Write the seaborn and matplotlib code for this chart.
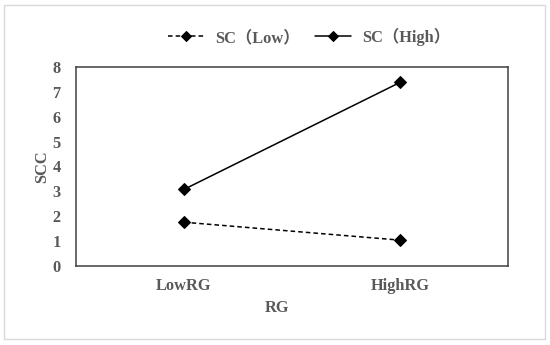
import pandas as pd
import matplotlib
matplotlib.use("Agg")
import matplotlib.pyplot as plt
import seaborn as sns
from matplotlib.patches import Rectangle

# values
rg_levels = ["LowRG", "HighRG"]
sc_low = [1.76, 1.04]
sc_high = [3.08, 7.38]
sc_labels = ["SC（Low）", "SC（High）"]
y_ticks = [0, 1, 2, 3, 4, 5, 6, 7, 8]

df = pd.DataFrame({
    "RG": rg_levels * 2,
    "SCC": sc_low + sc_high,
    "SC": [sc_labels[0]] * 2 + [sc_labels[1]] * 2,
})

sns.set_style("white")
plt.rcParams['font.family'] = ['Liberation Serif', 'Noto Sans CJK SC', 'DejaVu Sans']
text_col = "#595959"

fig = plt.figure(figsize=(5.5, 3.45), dpi=100)
ax = fig.add_axes([76 / 550, 1 - 266 / 345, 432 / 550, 199 / 345])

sns.lineplot(data=df, x="RG", y="SCC", hue="SC", style="SC",
             palette=["black", "black"], markers=["D", "D"],
             dashes=[(3, 2), ""], markersize=6.5, linewidth=1.1,
             markeredgecolor="black", ax=ax)

ax.set_xlim(-0.5, 1.5)
ax.set_ylim(0, 8)
ax.set_yticks(y_ticks)
ax.tick_params(length=0, labelsize=11.8, labelcolor=text_col)
ax.tick_params(axis="y", pad=11)
ax.tick_params(axis="x", pad=9)
for lab in ax.get_xticklabels() + ax.get_yticklabels():
    lab.set_fontweight("bold")

ax.set_xlabel("RG", fontsize=11.8, fontweight="bold", color=text_col)
ax.set_ylabel("SCC", fontsize=11.8, fontweight="bold", color=text_col)
ax.xaxis.set_label_coords(0.465, -0.17)
ax.yaxis.set_label_coords(-0.06, 0.5)

for sp in ax.spines.values():
    sp.set_visible(True)
    sp.set_color("#404040")
    sp.set_linewidth(1.1)

ax.get_legend().remove()
handles, labels = ax.get_legend_handles_labels()
leg = fig.legend(handles, labels, loc="center", ncol=2, frameon=False,
                 bbox_to_anchor=(309 / 550, 1 - 37 / 345),
                 prop={"size": 11.8, "weight": "bold"}, markerscale=0.8,
                 handlelength=2.2, handletextpad=0.7, columnspacing=0.9)
for t in leg.get_texts():
    t.set_color(text_col)

# light outer border of the chart area
fig.patches.append(Rectangle((4 / 550, 1 - 339 / 345), 541 / 550, 334 / 345,
                             transform=fig.transFigure, fill=False,
                             edgecolor="#d9d9d9", linewidth=1.0))

fig.savefig("out.png", dpi=100)
